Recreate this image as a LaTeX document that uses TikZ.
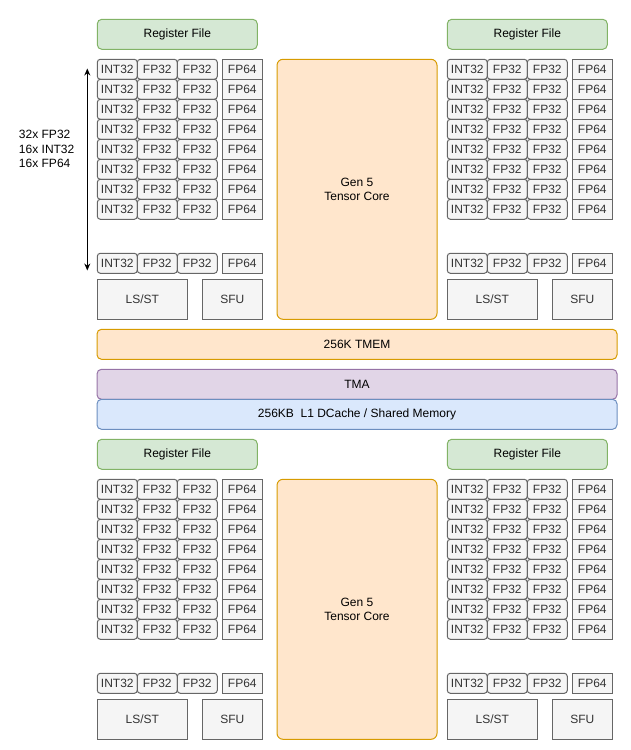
\documentclass[tikz,border=0pt]{standalone}
\usepackage{fontspec}
\setmainfont{Liberation Sans}
\usetikzlibrary{arrows.meta}
\definecolor{cellfill}{HTML}{F5F5F5}
\definecolor{cellline}{HTML}{666666}
\definecolor{celltext}{HTML}{333333}
\definecolor{rffill}{HTML}{D5E8D4}
\definecolor{rfline}{HTML}{82B366}
\definecolor{tcfill}{HTML}{FFE6CC}
\definecolor{tcline}{HTML}{D79B00}
\definecolor{tmafill}{HTML}{E1D5E7}
\definecolor{tmaline}{HTML}{9673A6}
\definecolor{lfill}{HTML}{DAE8FC}
\definecolor{lline}{HTML}{6C8EBF}
\tikzset{
  base/.style={line width=1pt, inner sep=0pt, font=\fontsize{12}{14}\selectfont, align=center},
  cell/.style={base, draw=cellline, fill=cellfill, text=celltext, rounded corners=3pt, minimum width=40pt, minimum height=20pt},
  sqcell/.style={cell, sharp corners},
  unitbox/.style={base, draw=cellline, fill=cellfill, text=celltext, minimum height=40pt},
  regf/.style={base, draw=rfline, fill=rffill, rounded corners=4.5pt, minimum width=160pt, minimum height=30pt},
  tcore/.style={base, draw=tcline, fill=tcfill, rounded corners=6pt, minimum width=160pt, minimum height=260pt},
  bar/.style={base, rounded corners=4.5pt, minimum width=520pt, minimum height=30pt},
}
\newcommand{\smquad}[2]{%
\begin{scope}[shift={#2}]
  \node[regf] (#1rf) at (177.3,34.3) {Register File};
  \foreach \r in {0,...,7} {
    \node[cell] (#1i\r) at (117.3,{69.3+20*\r}) {INT32};
    \node[cell] (#1a\r) at (157.3,{69.3+20*\r}) {FP32};
    \node[cell] (#1b\r) at (197.3,{69.3+20*\r}) {FP32};
    \node[sqcell] (#1d\r) at (242.3,{69.3+20*\r}) {FP64};
  }
  \node[cell] (#1iL) at (117.3,263.3) {INT32};
  \node[cell] (#1aL) at (157.3,263.3) {FP32};
  \node[cell] (#1bL) at (197.3,263.3) {FP32};
  \node[sqcell] (#1dL) at (242.3,263.3) {FP64};
  \node[unitbox, minimum width=90pt] (#1ls) at (142.3,299.3) {LS/ST};
  \node[unitbox, minimum width=60pt] (#1sfu) at (232.3,299.3) {SFU};
\end{scope}}
\begin{document}
\begin{tikzpicture}[x=1pt,y=-1pt]
  \useasboundingbox (0,0) rectangle (630,750);
  % top half
  \smquad{tl}{(0,0)}
  \smquad{tr}{(350,0)}
  \node[tcore] (tct) at (357,189.3) {Gen 5\\ Tensor Core};
  % shared
  \node[bar, draw=tcline, fill=tcfill] (tmem) at (357,344.3) {256K TMEM};
  \node[bar, draw=tmaline, fill=tmafill] (tma) at (357,384.3) {TMA};
  \node[bar, draw=lline, fill=lfill] (l1) at (357,414.3) {256KB\ \ L1 DCache / Shared Memory};
  % bottom half
  \smquad{bl}{(0,420)}
  \smquad{br}{(350,420)}
  \node[tcore] (tcb) at (357,609.3) {Gen 5\\ Tensor Core};
  % arrow and label
  \coordinate (atop) at (87.3,68.5);
  \coordinate (abot) at (87.3,270.5);
  \draw[line width=1pt, {Stealth[length=7pt,width=6pt]}-{Stealth[length=7pt,width=6pt]}] (atop) -- (abot);
  \node[base, align=left, anchor=west, font=\fontsize{12}{14.5}\selectfont] (lbl) at (18.5,149) {32x FP32\\16x INT32\\16x FP64};
\end{tikzpicture}
\end{document}
